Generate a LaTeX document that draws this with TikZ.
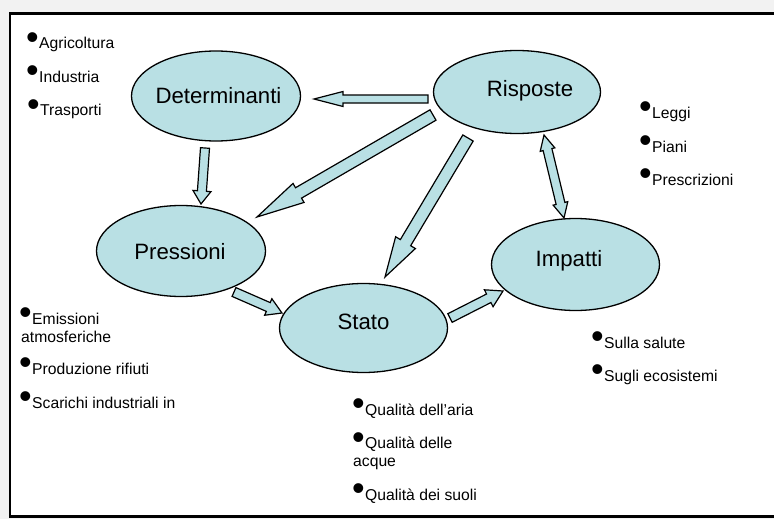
\documentclass[tikz,border=0pt]{standalone}
\usepackage{fontspec}
\usepackage{graphicx}
\setmainfont{Liberation Sans}
\usetikzlibrary{calc,shapes.geometric}
\definecolor{ellfill}{RGB}{185,224,228}
\definecolor{bggray}{RGB}{242,242,242}
\newcommand{\bul}{\llap{\raisebox{-0.8pt}{\fontsize{36}{36}\selectfont •}\kern0.4pt}}
% block arrow: #1 start, #2 tip, #3 shaft half-width, #4 head half-width, #5 head length
\newcommand{\blockarrow}[5]{%
  \coordinate (bneck) at ($(#2)!#5!(#1)$);
  \draw[barrow] ($(#1)!#3!90:(#2)$) -- ($(bneck)!#3!90:(#2)$) -- ($(bneck)!#4!90:(#2)$) -- (#2)
    -- ($(bneck)!#4!-90:(#2)$) -- ($(bneck)!#3!-90:(#2)$) -- ($(#1)!#3!-90:(#2)$) -- cycle;}
\newcommand{\dblarrow}[5]{%
  \coordinate (bneckA) at ($(#1)!#5!(#2)$);
  \coordinate (bneckB) at ($(#2)!#5!(#1)$);
  \draw[barrow] (#1) -- ($(bneckA)!#4!90:(#2)$) -- ($(bneckA)!#3!90:(#2)$) -- ($(bneckB)!#3!90:(#2)$)
    -- ($(bneckB)!#4!90:(#2)$) -- (#2) -- ($(bneckB)!#4!-90:(#2)$) -- ($(bneckB)!#3!-90:(#2)$)
    -- ($(bneckA)!#3!-90:(#2)$) -- ($(bneckA)!#4!-90:(#2)$) -- cycle;}
\begin{document}
\begin{tikzpicture}[x=1pt,y=-1pt,
  ell/.style={ellipse, draw, line width=1.3pt, fill=ellfill, inner sep=0pt},
  elabel/.style={inner sep=0pt, anchor=base, font=\fontsize{22.2}{26}\selectfont},
  item/.style={inner sep=0pt, anchor=base west, align=left, font=\fontsize{15.7}{18}\selectfont},
  barrow/.style={draw=black, line width=1.2pt, fill=ellfill, line join=miter}]
\useasboundingbox (0,0) rectangle (774,519);
\fill[bggray] (0,0) rectangle (774,519);
\draw[line width=2.6pt, fill=white] (10,13.5) rectangle (800,516.5);

% ellipses
\node[ell, minimum width=169pt, minimum height=90pt] (det) at (216,96) {};
\node[ell, minimum width=167pt, minimum height=83pt] (ris) at (517,92) {};
\node[ell, minimum width=169pt, minimum height=91pt] (pre) at (181,251) {};
\node[ell, minimum width=168pt, minimum height=89pt] (sta) at (363.5,328) {};
\node[ell, minimum width=168pt, minimum height=92pt] (imp) at (575.5,264.5) {};

\node[elabel] (detl) at (218.5,103) {Determinanti};
\node[elabel] (risl) at (530,96) {Risposte};
\node[elabel] (prel) at (180,259) {Pressioni};
\node[elabel] (stal) at (363.5,329) {Stato};
\node[elabel] (impl) at (569,266) {Impatti};

% arrow end points
\coordinate (a1s) at (428,99);   \coordinate (a1t) at (314,99);
\coordinate (a2s) at (205,148);  \coordinate (a2t) at (201,204);
\coordinate (a3s) at (433,115);  \coordinate (a3t) at (257,217);
\coordinate (a4s) at (468,138);  \coordinate (a4t) at (385,277);
\coordinate (a5s) at (234,292);  \coordinate (a5t) at (282,313);
\coordinate (a6s) at (450,318);  \coordinate (a6t) at (503,291);
\coordinate (a7s) at (544,135);  \coordinate (a7t) at (564,218);

\blockarrow{a1s}{a1t}{4pt}{7.5pt}{29pt}
\blockarrow{a2s}{a2t}{4.5pt}{9pt}{13pt}
\blockarrow{a3s}{a3t}{6pt}{11pt}{48pt}
\blockarrow{a4s}{a4t}{6pt}{11.5pt}{40pt}
\blockarrow{a5s}{a5t}{4.8pt}{9pt}{15pt}
\blockarrow{a6s}{a6t}{4.8pt}{9.5pt}{16pt}
\dblarrow{a7s}{a7t}{4.5pt}{7.5pt}{15pt}

% bullet lists
\node[item] (l1) at (39,49) {\bul Agricoltura};
\node[item] (l2) at (39,82) {\bul Industria};
\node[item] (l3) at (40,115.5) {\bul Trasporti};

\node[item] (p1) at (21,342) {\hspace*{11pt}\bul Emissioni\\atmosferiche};
\node[item] (p2) at (32,374) {\bul Produzione rifiuti};
\node[item] (p3) at (32,408) {\bul Scarichi industriali in};

\node[item] (s1) at (365,415) {\bul Qualità dell’aria};
\node[item] (s2) at (353,466.5) {\hspace*{12pt}\bul Qualità delle\\acque};
\node[item] (s3) at (365,500) {\bul Qualità dei suoli};

\node[item] (r1) at (652,118) {\bul Leggi};
\node[item] (r2) at (652,152) {\bul Piani};
\node[item] (r3) at (652,185) {\bul Prescrizioni};

\node[item] (i1) at (604,348) {\bul Sulla salute};
\node[item] (i2) at (604,381) {\bul Sugli ecosistemi};
\end{tikzpicture}
\end{document}
